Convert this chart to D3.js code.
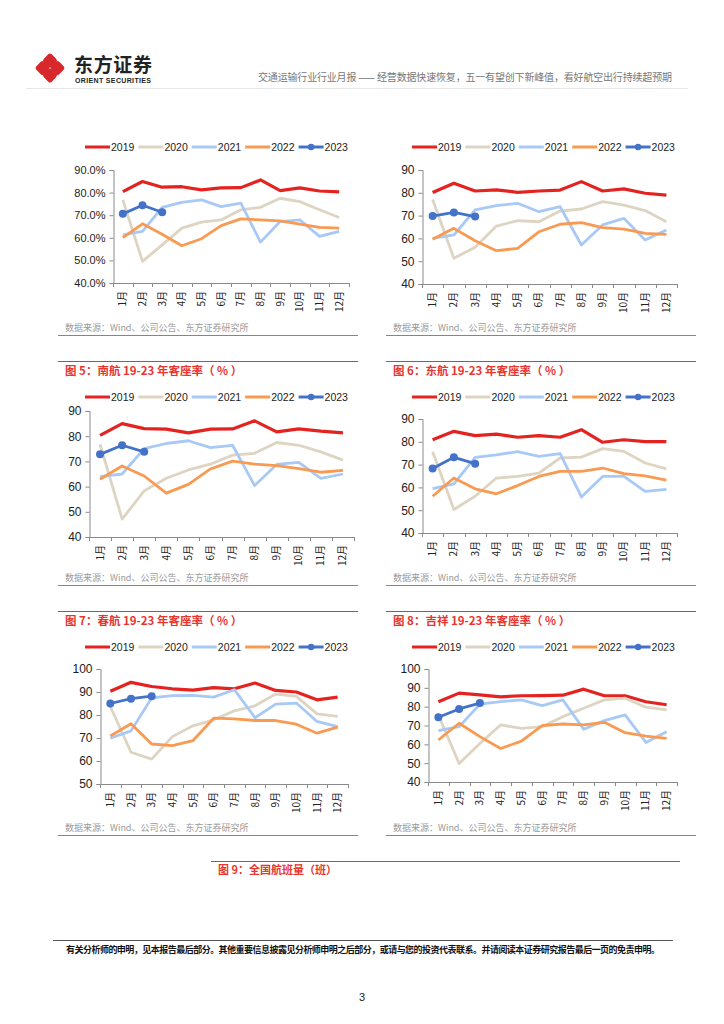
<!DOCTYPE html>
<html>
<head>
<meta charset="utf-8">
<script src="https://cdn.jsdelivr.net/npm/d3@7"></script>
<style>
  html, body { margin: 0; padding: 0; background: #fff; }
  svg { display: block; }
  .cjk { font-family: "Noto Sans CJK SC", "Noto Sans", sans-serif; }
  .num { font-family: "Liberation Sans", Arial, sans-serif; }
</style>
</head>
<body>
<svg id="page"></svg>
<script>
// ---- data ----
const months = ['1月', '2月', '3月', '4月', '5月', '6月', '7月', '8月', '9月', '10月', '11月', '12月'];
const years = ['2019', '2020', '2021', '2022', '2023'];
const yearColors = ['#e42320', '#ddd4c2', '#a8c9f6', '#f89a52', '#4472c8'];

// top-left panel (percent axis)
const panelA = [
  [80.4, 84.9, 82.4, 82.6, 81.2, 82.1, 82.2, 85.6, 80.9, 82.1, 80.7, 80.3],
  [76.8, 49.6, 56.9, 64.3, 66.9, 67.9, 72.4, 73.5, 77.5, 76.0, 72.4, 69.0],
  [61.3, 62.8, 73.5, 75.7, 76.8, 73.8, 75.3, 58.1, 67.2, 67.9, 60.6, 62.8],
  [60.1, 66.2, 61.6, 56.5, 59.6, 65.4, 68.4, 67.9, 67.5, 66.0, 64.6, 64.3],
  [70.6, 74.4, 71.3]
];
// top-right panel
const panelB = [
  [80.1, 84.2, 80.8, 81.3, 80.2, 80.8, 81.2, 84.9, 80.8, 81.7, 79.8, 79.0],
  [77.1, 51.3, 56.1, 65.4, 67.8, 67.3, 72.0, 72.9, 76.1, 74.6, 72.2, 67.3],
  [60.0, 61.5, 72.5, 74.4, 75.4, 71.7, 73.9, 57.1, 65.9, 68.8, 59.3, 63.7],
  [59.6, 64.4, 59.0, 54.6, 55.6, 62.9, 66.2, 66.9, 64.7, 64.1, 62.2, 61.8],
  [69.8, 71.4, 69.6]
];
// 图5 南航
const chinaSouthern = [
  [80.3, 85.0, 83.0, 82.8, 81.3, 82.8, 82.9, 86.1, 81.7, 82.9, 82.0, 81.3],
  [76.8, 47.1, 58.3, 63.3, 66.6, 68.9, 72.5, 73.2, 77.5, 76.4, 73.8, 70.5],
  [64.0, 65.0, 75.1, 77.1, 78.2, 75.5, 76.4, 60.4, 68.8, 69.6, 63.3, 65.0],
  [62.9, 68.2, 64.2, 57.4, 60.9, 67.0, 70.1, 68.9, 68.3, 67.1, 65.7, 66.4],
  [72.8, 76.4, 73.8]
];
// 图6 东航
const chinaEastern = [
  [80.9, 84.6, 82.7, 83.4, 82.0, 82.7, 82.0, 85.3, 79.8, 80.9, 80.1, 80.1],
  [75.6, 50.3, 56.1, 64.1, 64.8, 66.3, 72.9, 73.3, 77.0, 75.8, 70.7, 68.1],
  [59.5, 61.5, 73.2, 74.3, 75.7, 73.6, 74.8, 55.8, 64.8, 64.8, 58.3, 59.1],
  [56.1, 64.1, 59.4, 57.2, 60.8, 64.8, 67.0, 67.0, 68.5, 66.0, 65.1, 63.2],
  [68.3, 73.2, 70.4]
];
// 图7 春航
const springAir = [
  [90.3, 94.2, 92.4, 91.4, 90.8, 91.9, 91.4, 93.9, 90.7, 90.0, 86.6, 87.8],
  [83.7, 63.8, 60.8, 70.6, 75.3, 77.9, 81.8, 84.0, 89.1, 88.1, 80.5, 79.4],
  [69.9, 73.1, 87.4, 88.4, 88.5, 87.8, 91.0, 78.8, 84.7, 85.2, 77.2, 74.9],
  [70.9, 76.2, 67.4, 66.7, 68.9, 78.6, 78.3, 77.6, 77.6, 76.0, 72.1, 74.7],
  [85.0, 87.1, 88.2]
];
// 图8 吉祥
const juneyao = [
  [82.6, 87.2, 86.3, 85.2, 85.8, 85.9, 86.1, 89.3, 85.8, 85.8, 82.6, 81.0],
  [75.5, 49.8, 60.5, 70.3, 68.5, 69.4, 74.7, 79.2, 83.6, 84.5, 79.7, 78.3],
  [67.3, 69.4, 81.3, 82.7, 83.6, 80.6, 83.6, 68.0, 72.6, 75.6, 61.0, 66.7],
  [62.3, 71.2, 64.1, 57.8, 61.7, 69.9, 70.8, 70.3, 71.7, 66.2, 64.4, 63.2],
  [74.4, 78.8, 81.9]
];

const sourceNote = '数据来源：Wind、公司公告、东方证券研究所';
const headerTitle = '交通运输行业行业月报 —— 经营数据快速恢复，五一有望创下新峰值，看好航空出行持续超预期';
const disclaimer = '有关分析师的申明，见本报告最后部分。其他重要信息披露见分析师申明之后部分，或请与您的投资代表联系。并请阅读本证券研究报告最后一页的免责申明。';

(function(){
  const W = 724, H = 1024;
  const svg = d3.select('#page').attr('width', W).attr('height', H);
  const red = '#e8352e';

  // ---- header ----
  let logo = svg.append('g').attr('transform', 'translate(50,68)');
  [[0, -7.5], [-7.5, 0], [7.5, 0], [0, 7.5]].forEach(p => {
    logo.append('rect')
        .attr('x', p[0] - 5.6).attr('y', p[1] - 5.6)
        .attr('width', 11.2).attr('height', 11.2)
        .attr('rx', 2.5)
        .attr('fill', '#d9282b')
        .attr('transform', `rotate(45 ${p[0]} ${p[1]})`);
  });
  svg.append('text').attr('class', 'cjk')
      .attr('x', 74).attr('y', 72)
      .attr('font-size', 19).attr('font-weight', 700).attr('fill', '#222')
      .attr('textLength', 78)
      .text('东方证券');
  svg.append('text').attr('class', 'num')
      .attr('x', 75).attr('y', 83)
      .attr('font-size', 7).attr('font-weight', 700).attr('fill', '#222')
      .attr('textLength', 76)
      .text('ORIENT SECURITIES');
  svg.append('text').attr('class', 'cjk')
      .attr('x', 258).attr('y', 81)
      .attr('font-size', 10).attr('fill', '#777')
      .attr('textLength', 414)
      .text(headerTitle);
  svg.append('line')
      .attr('x1', 26).attr('x2', 688).attr('y1', 88.5).attr('y2', 88.5)
      .attr('stroke', '#e6e6e6').attr('stroke-width', 1);

  function drawPanel(p){
    let g = svg.append('g');

    if(p.title){
      g.append('line')
          .attr('x1', p.ruleX0).attr('x2', p.ruleX1)
          .attr('y1', p.titleY - 8.5).attr('y2', p.titleY - 8.5)
          .attr('stroke', red).attr('stroke-width', 1);
      g.append('text').attr('class', 'cjk')
          .attr('x', p.ruleX0 + 7).attr('y', p.titleY + 5)
          .attr('font-size', 11.5).attr('font-weight', 700).attr('fill', red)
          .text(p.title);
    }

    // legend
    let leg = g.append('g').attr('transform', `translate(${p.legendX},${p.legendY})`);
    years.forEach((yr, i) => {
      let lx = i * 53.4;
      leg.append('line')
          .attr('x1', lx).attr('x2', lx + 25)
          .attr('stroke', yearColors[i]).attr('stroke-width', 3);
      if(i === 4){
        leg.append('circle').attr('cx', lx + 12.5).attr('r', 3.2).attr('fill', yearColors[i]);
      }
      leg.append('text').attr('class', 'num')
          .attr('x', lx + 26).attr('dy', '0.36em')
          .attr('font-size', 10.5).attr('fill', '#222')
          .text(yr);
    });

    let x = d3.scaleBand().domain(months).range([p.x0, p.x1]);
    let y = d3.scaleLinear().domain(p.domain).range([p.yBot, p.yTop]);

    // y axis
    let yAxis = g.append('g')
        .attr('transform', `translate(${p.x0 + 0.5},0)`)
        .call(d3.axisLeft(y).tickValues(d3.range(p.domain[0], p.domain[1] + 1, 10))
          .tickSize(4).tickPadding(4).tickFormat(p.fmt));
    yAxis.select('.domain').attr('stroke', '#8a8a8a');
    yAxis.selectAll('.tick line').attr('stroke', '#8a8a8a');
    yAxis.selectAll('text')
        .attr('class', 'num').attr('font-size', p.tickSize).attr('fill', '#222');

    // x axis with ticks at band edges
    let xg = g.append('g');
    xg.append('line')
        .attr('x1', p.x0).attr('x2', p.x1)
        .attr('y1', p.yBot + 0.5).attr('y2', p.yBot + 0.5)
        .attr('stroke', '#8a8a8a');
    xg.selectAll('line.tk')
      .data(months.concat(['end']))
      .enter().append('line').attr('class', 'tk')
        .attr('x1', (d, i) => Math.round(p.x0 + i * x.step()) + 0.5)
        .attr('x2', (d, i) => Math.round(p.x0 + i * x.step()) + 0.5)
        .attr('y1', p.yBot).attr('y2', p.yBot + 4)
        .attr('stroke', '#8a8a8a');
    xg.selectAll('text')
      .data(months)
      .enter().append('text').attr('class', 'cjk')
        .attr('transform', d => `translate(${x(d) + x.bandwidth() / 2},${p.yBot + 8}) rotate(-90)`)
        .attr('text-anchor', 'end')
        .attr('dy', '0.35em')
        .attr('font-size', 10).attr('fill', '#222')
        .text(d => d);

    // lines
    let line = d3.line()
        .x((d, i) => x(months[i]) + x.bandwidth() / 2)
        .y(d => y(d));
    p.data.forEach((vals, i) => {
      g.append('path')
          .datum(vals)
          .attr('d', line)
          .attr('fill', 'none')
          .attr('stroke', yearColors[i])
          .attr('stroke-width', i === 0 ? 3.2 : 2.8)
          .attr('stroke-linejoin', 'round');
    });
    g.selectAll('circle.dot')
      .data(p.data[4])
      .enter().append('circle').attr('class', 'dot')
        .attr('cx', (d, i) => x(months[i]) + x.bandwidth() / 2)
        .attr('cy', d => y(d))
        .attr('r', 4)
        .attr('fill', yearColors[4]);

    // source note and rule
    g.append('text').attr('class', 'cjk')
        .attr('x', p.ruleX0 + 7).attr('y', p.sourceY + 3)
        .attr('font-size', 9).attr('fill', '#9a9a9a')
        .text(sourceNote);
    g.append('line')
        .attr('x1', p.ruleX0).attr('x2', p.ruleX1)
        .attr('y1', p.sourceY + 7.5).attr('y2', p.sourceY + 7.5)
        .attr('stroke', '#ec5a55').attr('stroke-width', 1);
  }

  let pct = d => d3.format('.1f')(d) + '%';
  let int = d => d;

  drawPanel({data: panelA, legendX: 85, legendY: 147, x0: 113, x1: 349, yTop: 170, yBot: 283,
    domain: [40, 90], fmt: pct, tickSize: 11, sourceY: 328, ruleX0: 58, ruleX1: 358});
  drawPanel({data: panelB, legendX: 412, legendY: 147, x0: 422, x1: 677, yTop: 170, yBot: 284,
    domain: [40, 90], fmt: int, tickSize: 12, sourceY: 328, ruleX0: 386, ruleX1: 696});
  drawPanel({data: chinaSouthern, title: '图 5：南航 19-23 年客座率（ % ）', titleY: 370,
    legendX: 85, legendY: 397, x0: 89, x1: 354, yTop: 411, yBot: 537,
    domain: [40, 90], fmt: int, tickSize: 12, sourceY: 578, ruleX0: 58, ruleX1: 358});
  drawPanel({data: chinaEastern, title: '图 6：东航 19-23 年客座率（ % ）', titleY: 370,
    legendX: 412, legendY: 397, x0: 422, x1: 677, yTop: 419, yBot: 533,
    domain: [40, 90], fmt: int, tickSize: 12, sourceY: 578, ruleX0: 386, ruleX1: 696});
  drawPanel({data: springAir, title: '图 7：春航 19-23 年客座率（ % ）', titleY: 620,
    legendX: 85, legendY: 647, x0: 100, x1: 348, yTop: 669, yBot: 784,
    domain: [50, 100], fmt: int, tickSize: 12, sourceY: 828, ruleX0: 58, ruleX1: 358});
  drawPanel({data: juneyao, title: '图 8：吉祥 19-23 年客座率（ % ）', titleY: 620,
    legendX: 412, legendY: 647, x0: 428, x1: 677, yTop: 669, yBot: 782,
    domain: [40, 100], fmt: int, tickSize: 12, sourceY: 828, ruleX0: 386, ruleX1: 696});

  // figure 9 caption
  svg.append('line')
      .attr('x1', 211).attr('x2', 680).attr('y1', 861.5).attr('y2', 861.5)
      .attr('stroke', red).attr('stroke-width', 1);
  svg.append('text').attr('class', 'cjk')
      .attr('x', 218).attr('y', 874)
      .attr('font-size', 11).attr('font-weight', 700).attr('fill', red)
      .text('图 9：全国航班量（班）');

  // footer
  svg.append('line')
      .attr('x1', 53).attr('x2', 673).attr('y1', 940.5).attr('y2', 940.5)
      .attr('stroke', '#555').attr('stroke-width', 1);
  svg.append('text').attr('class', 'cjk')
      .attr('x', 66).attr('y', 953)
      .attr('font-size', 9).attr('font-weight', 700).attr('fill', '#111')
      .attr('textLength', 594)
      .text(disclaimer);
  svg.append('text').attr('class', 'num')
      .attr('x', 362).attr('y', 1001)
      .attr('text-anchor', 'middle')
      .attr('font-size', 11).attr('fill', '#222')
      .text('3');
})();
</script>
</body>
</html>
